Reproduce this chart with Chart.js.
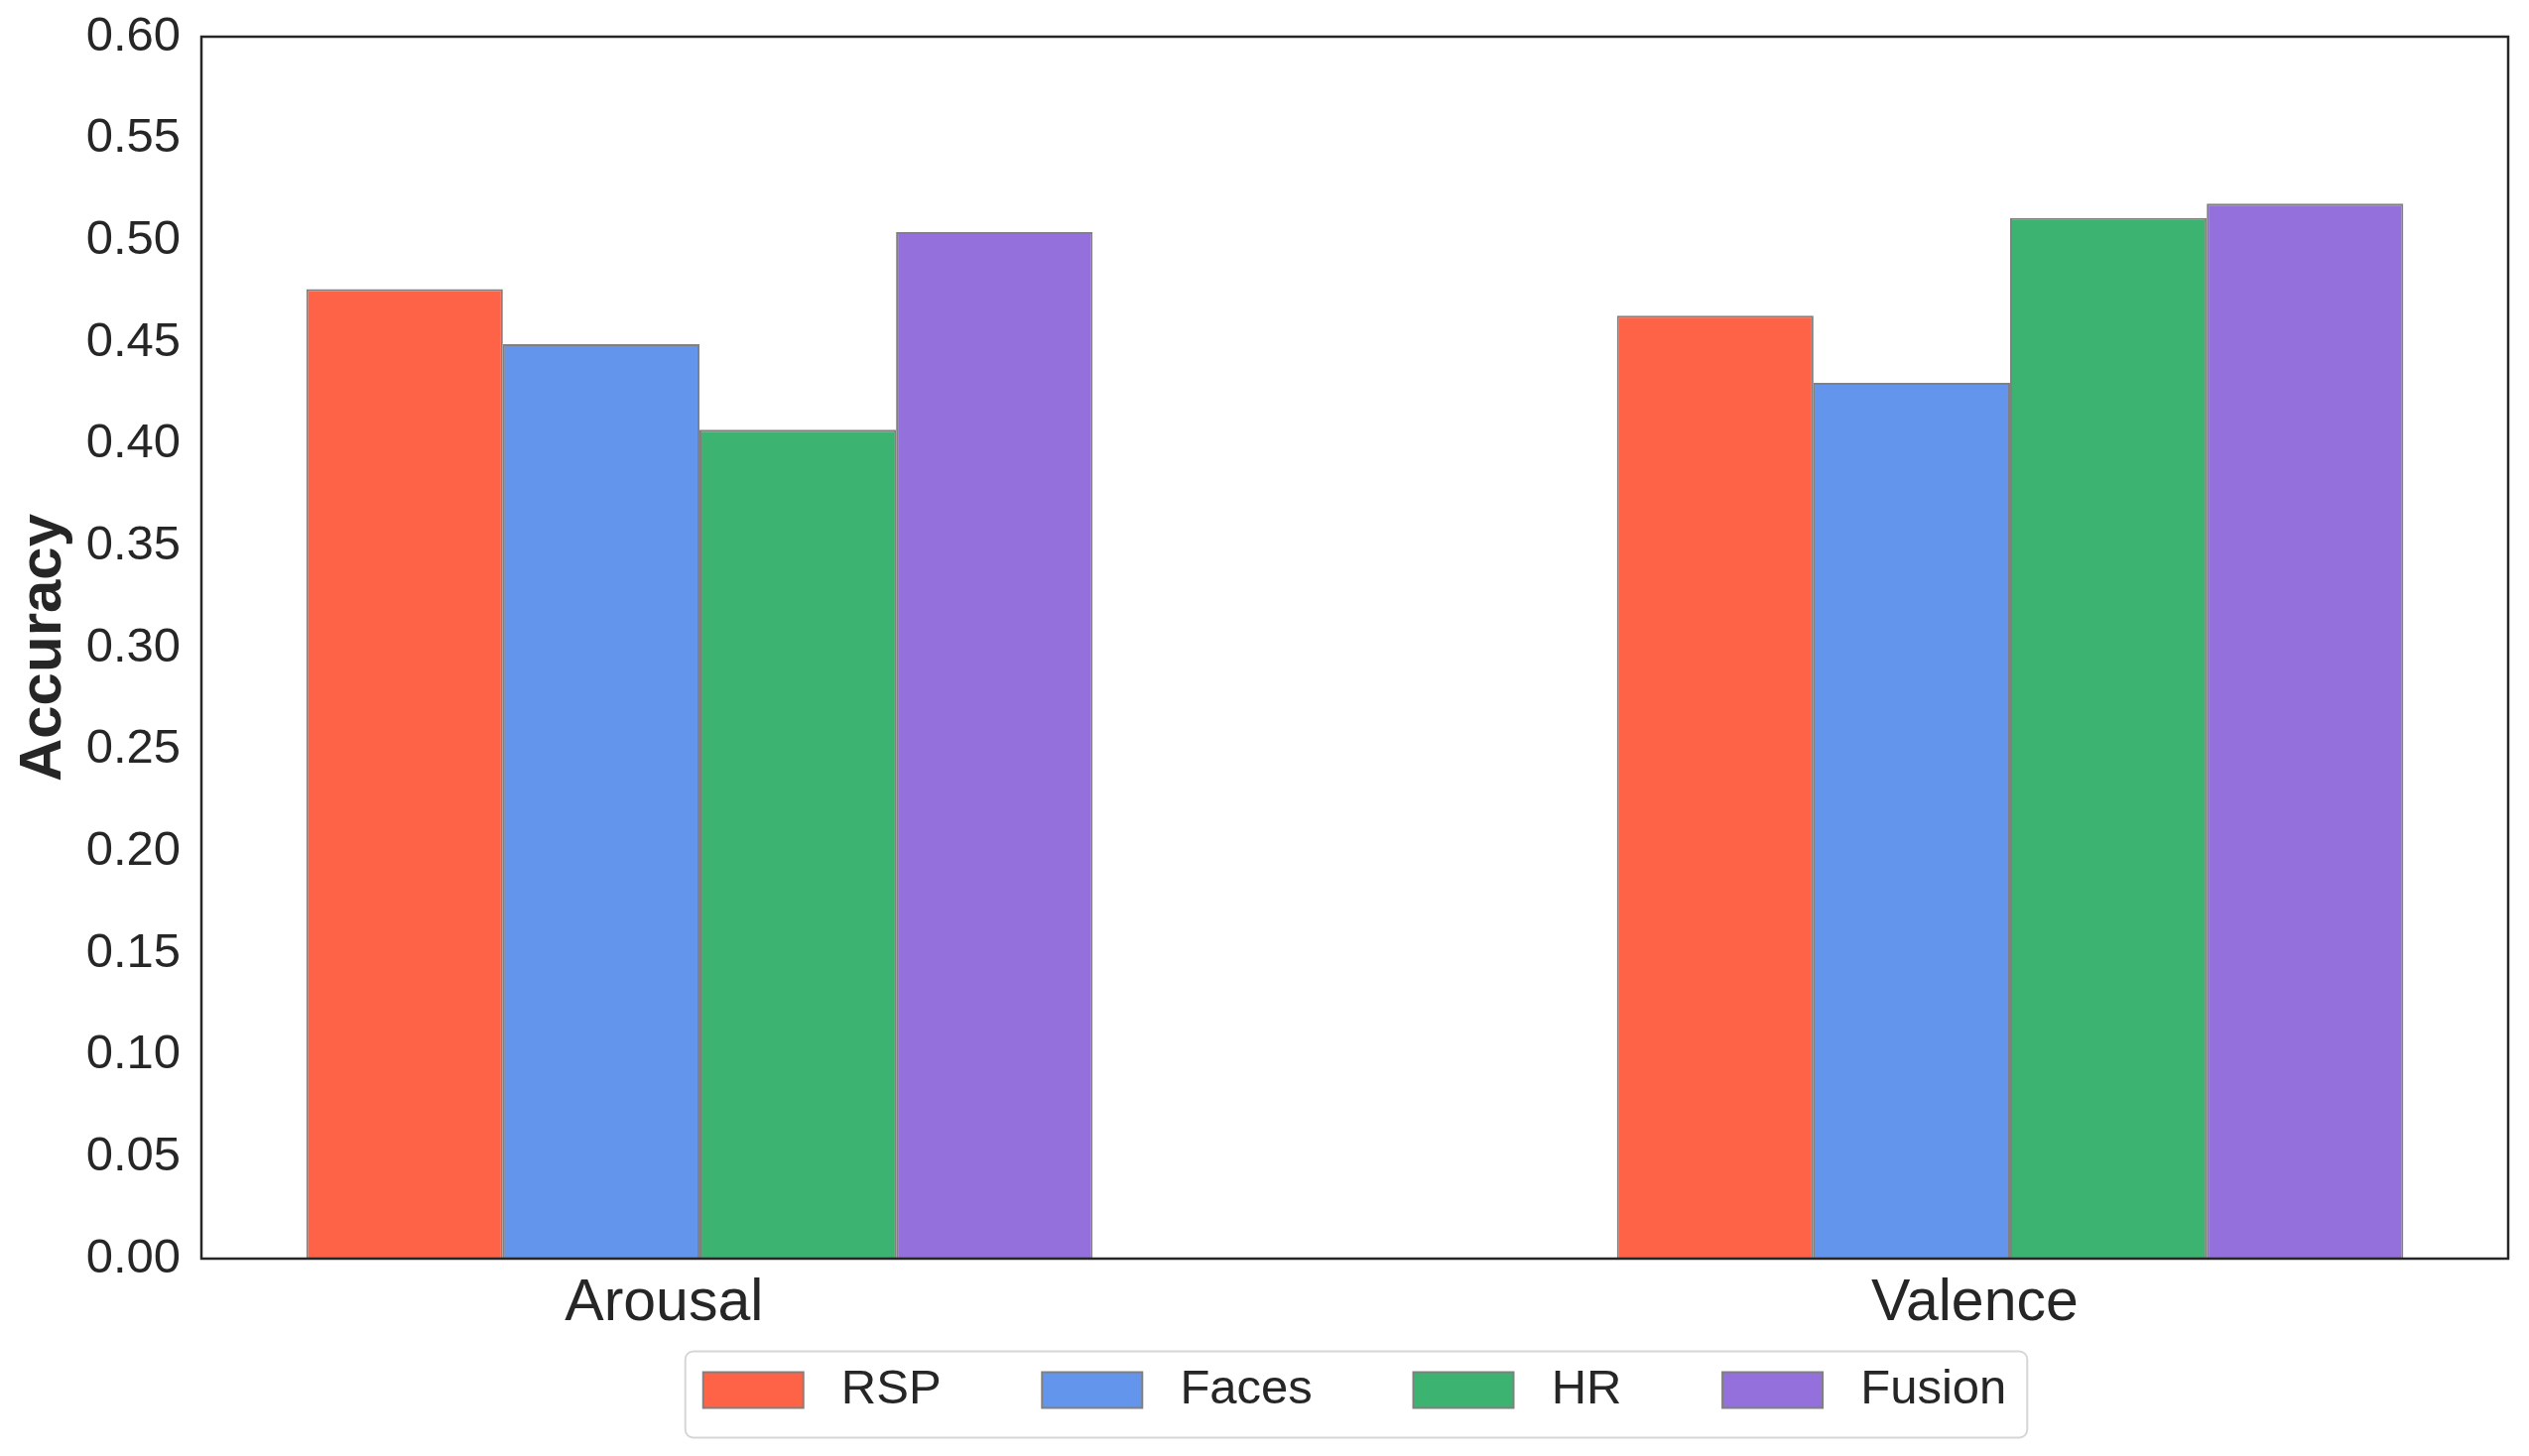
<!DOCTYPE html>
<html>
<head>
<meta charset="utf-8">
<title>Accuracy</title>
<script src="https://cdn.jsdelivr.net/npm/chart.js@4.4.1/dist/chart.umd.min.js"></script>
<style>
  body { margin: 0; background: #fff; }
  .chart-box { width: 2549px; height: 1468px; }
</style>
</head>
<body>
<div class="chart-box"><canvas id="accuracyChart"></canvas></div>
<script>
/* Data */

const groups = ['Arousal', 'Valence']
const groupPos = [0, 1]
const groupTicks = [-0.027, 0.973]

const seriesNames = ['RSP', 'Faces', 'HR', 'Fusion']
const rspValues = [0.476, 0.463]
const facesValues = [0.449, 0.430]
const hrValues = [0.407, 0.511]
const fusionValues = [0.504, 0.518]

const seriesColors = ['#FF6347', '#6495ED', '#3CB371', '#9370DB']

/* Chart */

const textColor = '#262626'
Chart.defaults.font.family = '"Liberation Sans", Arial, sans-serif'
Chart.defaults.color = textColor

const allValues = [rspValues, facesValues, hrValues, fusionValues]

const datasets = seriesNames.map((name, i) => ({
  // leading space widens the gap after the swatch, trailing ones space out the items
  label: ' ' + name + (i < seriesNames.length - 1 ? '      ' : ''),
  data: allValues[i].map((v, j) => ({ x: groupPos[j], y: v })),
  backgroundColor: seriesColors[i],
  borderColor: '#808080',
  borderWidth: 2,
  categoryPercentage: 0.6,
  barPercentage: 1
}))

// frame round the plot and round the legend
const frames = {
  id: 'frames',
  afterDatasetsDraw(chart) {
    const { ctx, chartArea } = chart
    ctx.save()
    ctx.strokeStyle = textColor
    ctx.lineWidth = 2.5
    ctx.strokeRect(chartArea.left, chartArea.top, chartArea.right - chartArea.left, chartArea.bottom - chartArea.top)
    ctx.restore()
  },
  afterDraw(chart) {
    const boxes = chart.legend.legendHitBoxes
    if (!boxes || !boxes.length) return
    const first = boxes[0]
    const last = boxes[boxes.length - 1]
    const mid = first.top + first.height / 2
    const x0 = first.left - 18
    const x1 = last.left + last.width + 21
    const y0 = mid - 39
    const y1 = mid + 48
    const { ctx } = chart
    ctx.save()
    ctx.strokeStyle = '#d6d6d6'
    ctx.lineWidth = 2
    ctx.beginPath()
    ctx.roundRect(x0, y0, x1 - x0, y1 - y0, 8)
    ctx.stroke()
    ctx.restore()
  }
}

const ctx = document.getElementById('accuracyChart').getContext('2d')
const accuracyChart = new Chart(ctx, {
  type: 'bar',
  data: { datasets },
  plugins: [frames],
  options: {
    responsive: true,
    maintainAspectRatio: false,
    devicePixelRatio: 1,
    animation: false,
    layout: { padding: { top: 37, right: 21, bottom: 32, left: 0 } },
    plugins: {
      tooltip: { enabled: false },
      legend: {
        position: 'bottom',
        fullSize: false,
        labels: {
          font: { size: 49 },
          color: textColor,
          boxWidth: 101,
          boxHeight: 36,
          padding: 20
        }
      }
    },
    scales: {
      x: {
        type: 'linear',
        offset: false,
        min: -0.38,
        max: 1.38,
        afterBuildTicks: (scale) => { scale.ticks = groupTicks.map(v => ({ value: v })) },
        afterFit: (scale) => {
          scale.height = 88
          scale.paddingLeft = 0
          scale.paddingRight = 0
        },
        grid: { display: false, drawTicks: false },
        border: { display: false },
        ticks: {
          autoSkip: false,
          maxRotation: 0,
          padding: 10,
          font: { size: 59 },
          color: textColor,
          callback: (value, index) => groups[index]
        }
      },
      y: {
        min: 0,
        max: 0.6,
        afterFit: (scale) => {
          scale.width = 203
          scale.paddingTop = 0
          scale.paddingBottom = 0
        },
        grid: { display: false, drawTicks: false },
        border: { display: false },
        ticks: {
          stepSize: 0.05,
          padding: 21,
          font: { size: 49 },
          color: textColor,
          callback: (value) => value.toFixed(2)
        },
        title: {
          display: true,
          text: 'Accuracy',
          color: textColor,
          font: { size: 60, weight: 'bold' },
          padding: { top: 8, bottom: 0 }
        }
      }
    }
  }
})
</script>
</body>
</html>
